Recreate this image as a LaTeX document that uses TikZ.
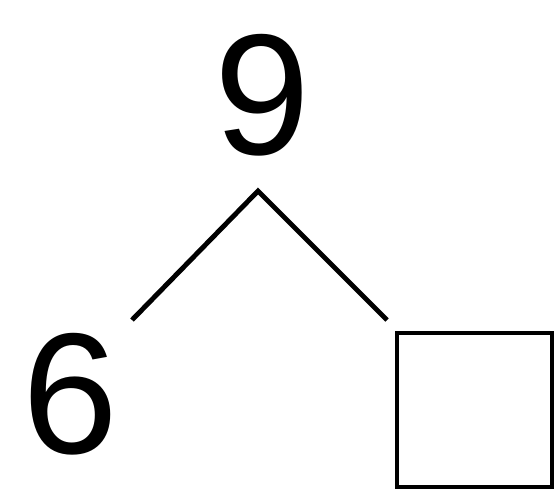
\documentclass[tikz,border=0pt]{standalone}
\usepackage{fontspec}
\setmainfont{Liberation Sans}
\usetikzlibrary{positioning}
\tikzset{
  bondnum/.style={inner sep=0pt, font=\fontsize{98}{110}\selectfont},
  bondbox/.style={draw, line width=2.3pt, minimum width=3.1cm, minimum height=3.08cm, inner sep=0pt},
  bondline/.style={line width=2.8pt},
}
\begin{document}
\begin{tikzpicture}
    \useasboundingbox (0,0) rectangle (11.08,9.8);
    \node[bondnum] (whole) at (5.24,7.9) {9};
    \node[bondnum] (partA) at (1.40,1.92) {6};
    \node[bondbox] (partB) at (9.49,1.60) {};
    \coordinate (apex) at (5.16,5.98);
    \coordinate (endA) at (2.64,3.40);
    \coordinate (endB) at (7.74,3.40);
    \draw[bondline] (endA) -- (apex) -- (endB);
\end{tikzpicture}
\end{document}
